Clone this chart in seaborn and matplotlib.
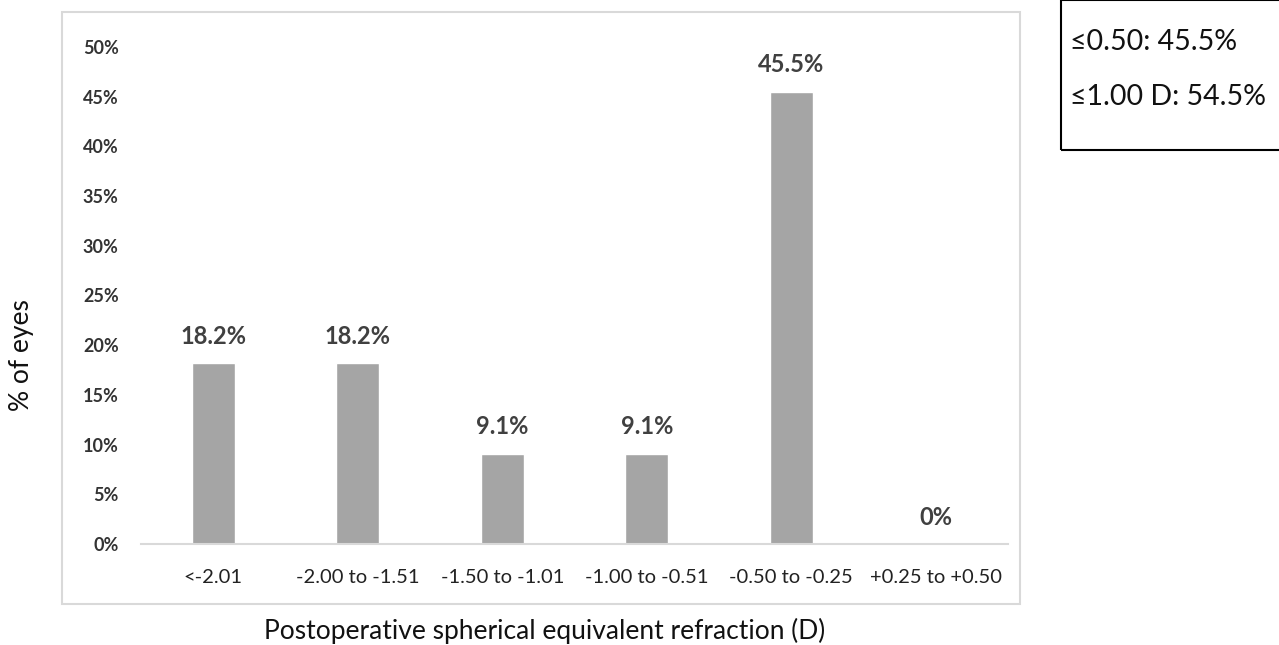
import matplotlib
matplotlib.use("Agg")
import matplotlib.pyplot as plt
import seaborn as sns
import pandas as pd
from matplotlib.patches import Rectangle
from matplotlib.ticker import PercentFormatter

# データ
categories = ["<-2.01", "-2.00 to -1.51", "-1.50 to -1.01", "-1.00 to -0.51",
              "-0.50 to -0.25", "+0.25 to +0.50"]
percent_eyes = [18.2, 18.2, 9.1, 9.1, 45.5, 0.0]
bar_labels = ["18.2%", "18.2%", "9.1%", "9.1%", "45.5%", "0%"]
summary_lines = ["≤0.50: 45.5%", "≤1.00 D: 54.5%"]

df = pd.DataFrame({"range": categories, "pct": percent_eyes})

sns.set_style("white")
plt.rcParams["font.family"] = ["Lato", "DejaVu Sans"]

fig = plt.figure(figsize=(12.79, 6.45), dpi=100)
ax = fig.add_axes([141 / 1279, 1 - 544 / 645, 867 / 1279, (544 - 47) / 645])

sns.barplot(data=df, x="range", y="pct", color="#a5a5a5", width=0.30,
            saturation=1, ax=ax)

ax.set_ylim(0, 50)
ax.set_yticks(range(0, 51, 5))
ax.yaxis.set_major_formatter(PercentFormatter(decimals=0))
ax.set_xlim(-0.5, len(categories) - 0.5)

for s in ["top", "right", "left"]:
    ax.spines[s].set_visible(False)
ax.spines["bottom"].set_color("#d9d9d9")
ax.spines["bottom"].set_linewidth(1.5)

ax.tick_params(axis="y", length=0, pad=16, labelsize=13, labelcolor="#333333")
ax.tick_params(axis="x", length=0, pad=18, labelsize=14.5, labelcolor="#222222")
for t in ax.get_yticklabels():
    t.set_fontweight("bold")

ax.bar_label(ax.containers[0], labels=bar_labels, padding=11,
             fontsize=17, fontweight="bold", color="#404040")

ax.set_xlabel("")
ax.set_ylabel("")

# 軸ラベル
fig.text(22 / 1279, 1 - 355 / 645, "% of eyes", rotation=90, ha="center",
         va="center", fontsize=19, color="#111111")
fig.text(545 / 1279, 1 - 631 / 645, "Postoperative spherical equivalent refraction (D)",
         ha="center", va="center", fontsize=19, color="#111111")

# チャート枠
fig.add_artist(Rectangle((62 / 1279, 1 - 604 / 645), (1020 - 62) / 1279, (604 - 12) / 645,
                         transform=fig.transFigure, fill=False,
                         edgecolor="#d9d9d9", linewidth=1.5))

# 右上のテキストボックス
fig.add_artist(Rectangle((1061 / 1279, 1 - 150 / 645), 0.2, 150 / 645,
                         transform=fig.transFigure, fill=False,
                         edgecolor="#000000", linewidth=1.5))
fig.text(1070 / 1279, 1 - 42 / 645, summary_lines[0], ha="left", va="center",
         fontsize=20.5, color="#111111")
fig.text(1070 / 1279, 1 - 97 / 645, summary_lines[1], ha="left", va="center",
         fontsize=20.5, color="#111111")

fig.savefig("out.png", dpi=100)
